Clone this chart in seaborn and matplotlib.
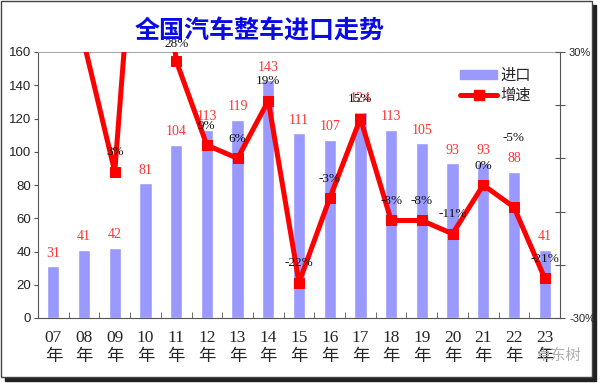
import numpy as np
import pandas as pd
import seaborn as sns
import matplotlib.pyplot as plt
from matplotlib.patches import Rectangle, Patch
from matplotlib.lines import Line2D

# data
years = ['07', '08', '09', '10', '11', '12', '13', '14', '15',
         '16', '17', '18', '19', '20', '21', '22', '23']
imports = [31, 41, 42, 81, 104, 113, 119, 143, 111,
           107, 124, 113, 105, 93, 93, 88, 41]
growth = [np.nan, 32, 3, 93, 28, 9, 6, 19, -22,
          -3, 15, -8, -8, -11, 0, -5, -21]
growth_labels = [None, None, '3%', None, '28%', '9%', '6%', '19%', '-22%',
                 '-3%', '15%', '-8%', '-8%', '-11%', '0%', '-5%', '-21%']

sns.set_style('white')
plt.rcParams['font.family'] = ['Liberation Sans', 'Noto Sans CJK SC', 'DejaVu Sans']
serif = ['Liberation Serif', 'Noto Sans CJK SC']

df = pd.DataFrame({'year': years, 'imports': imports, 'growth': growth})

fig = plt.figure(figsize=(6, 3.83), dpi=100)
ax = fig.add_axes([38 / 600, 1 - 318 / 383, 522 / 600, 266 / 383])

sns.barplot(data=df, x='year', y='imports', color='#9999FF', saturation=1,
            width=0.4, ax=ax)
ax.set_ylim(0, 160)
ax.set_yticks(range(0, 161, 20))
ax.set_xlim(-0.5, len(years) - 0.5)
ax.set_xlabel('')
ax.set_ylabel('')
ax.set_xticks(range(len(years)))
ax.set_xticklabels([y + '\n年' for y in years], family=serif, fontsize=12.5,
                   linespacing=1.25)
ax.set_xticks(np.arange(0.5, len(years) - 1, 1), minor=True)
ax.tick_params(axis='x', which='major', length=0, pad=9)
ax.tick_params(axis='x', which='minor', direction='in', length=4,
               color='#555555', bottom=True)
ax.tick_params(axis='y', labelsize=9.5, length=3, left=True, color='#555555',
               pad=2, labelcolor='#222222')
for s in ['left', 'bottom']:
    ax.spines[s].set_color('#555555')
ax.spines['top'].set_color('#aaaaaa')
ax.spines['right'].set_visible(False)

for i, v in enumerate(imports):
    ax.annotate(str(v), (i, v), xytext=(0, 9.5), textcoords='offset points',
                ha='center', va='center', color='#FF3333', fontsize=10,
                family=serif)

ax2 = ax.twinx()
sns.lineplot(x=np.arange(len(years)), y=growth, ax=ax2, color='#FF0000',
             lw=3.6, marker='s', markersize=7, markeredgecolor='#FF0000')
ax2.set_ylim(-30, 30)
ax2.set_yticks(np.linspace(-30, 30, 6))
ax2.set_yticklabels(['-30%', '', '', '', '', '30%'])
ax2.tick_params(axis='y', right=True, direction='inout', length=7,
                labelsize=8, color='#555555', pad=3)
for s in ['top', 'left', 'bottom']:
    ax2.spines[s].set_visible(False)
ax2.spines['right'].set_color('#555555')
ax.set_xlim(-0.5, len(years) - 0.5)

for i, (g, lab) in enumerate(zip(growth, growth_labels)):
    if lab is None:
        continue
    dy = 14
    if years[i] == '22':
        dy = 50
    elif years[i] == '11':
        dy = 12
    ax2.annotate(lab, (i, g), xytext=(0, dy), textcoords='offset points',
                 ha='center', va='center', color='#111111', fontsize=9.5,
                 family=serif, annotation_clip=False, zorder=5)

handles = [Patch(color='#9999FF'),
           Line2D([], [], color='#FF0000', lw=3.6, marker='s', markersize=7)]
ax2.legend(handles, ['进口', '增速'], loc='upper right',
           bbox_to_anchor=(0.97, 0.99), frameon=False, fontsize=11,
           handlelength=2.4, handleheight=0.5, handletextpad=0.2,
           labelspacing=0.35)

fig.text(0.433, 0.918, '全国汽车整车进口走势', ha='center', va='center',
         color='#0A0AE6', fontsize=18, fontweight='bold',
         family=['Noto Sans CJK SC'], zorder=-0.5)
fig.text(0.968, 0.073, '卓东树', ha='right', va='center', color='#b0b0b0',
         fontsize=11, family=['Noto Sans CJK SC'])

# frame with shadow
fig.patches.append(Rectangle((5 / 600, 1 - 381 / 383), 591 / 600, 376 / 383,
                             transform=fig.transFigure, color='#222222',
                             zorder=-2))
fig.patches.append(Rectangle((1 / 600, 1 - 377 / 383), 591 / 600, 376 / 383,
                             transform=fig.transFigure, facecolor='white',
                             edgecolor='#444444', lw=1, zorder=-1))

fig.savefig('out.png', dpi=100)
